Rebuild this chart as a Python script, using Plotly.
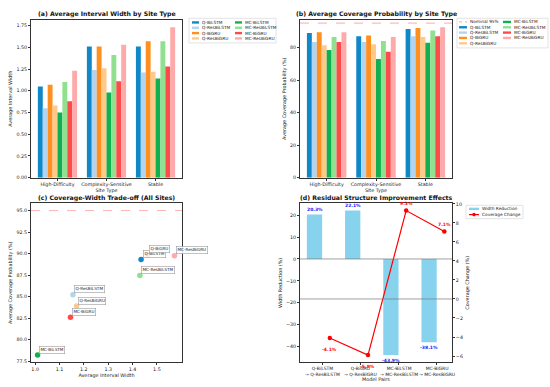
import plotly.graph_objects as go

W, H = 550, 387
FONT = "DejaVu Sans"

# ---------------- data ----------------
site_types = ["High-Difficulty", "Complexity-Sensitive", "Stable"]
models = ["Q-BiLSTM", "Q-ResBiLSTM", "Q-BiGRU", "Q-ResBiGRU",
          "MC-BiLSTM", "MC-ResBiLSTM", "MC-BiGRU", "MC-ResBiGRU"]
model_colors = ["#1088C8", "#B3D4F0", "#FF9020", "#FFC98A",
                "#10B050", "#90E090", "#FF4A4A", "#FFAAAA"]

# (a) average interval width, one list per site type (model order above)
width_high_difficulty = [1.05, 0.80, 1.07, 0.83, 0.75, 1.10, 0.88, 1.23]
width_complexity_sensitive = [1.51, 1.24, 1.51, 1.26, 0.98, 1.41, 1.11, 1.53]
width_stable = [1.51, 1.21, 1.57, 1.22, 1.14, 1.57, 1.28, 1.73]

# (b) average coverage probability (%)
cov_high_difficulty = [89.0, 83.5, 89.5, 81.5, 78.5, 86.5, 83.5, 89.5]
cov_complexity_sensitive = [87.0, 83.5, 87.5, 82.0, 73.0, 84.0, 77.5, 86.5]
cov_stable = [91.5, 87.0, 92.0, 86.5, 83.0, 90.5, 87.0, 92.5]
nominal_coverage = 95

# (c) trade-off, all sites
scatter_width = [1.435, 1.155, 1.462, 1.170, 1.010, 1.430, 1.145, 1.572]
scatter_coverage = [89.3, 85.2, 89.85, 83.9, 78.2, 87.45, 82.6, 89.75]

# (d) residual structure improvement
pair_labels = ["Q-BiLSTM<br>→ Q-ResBiLSTM", "Q-BiGRU<br>→ Q-ResBiGRU",
               "MC-BiLSTM<br>→ MC-ResBiLSTM", "MC-BiGRU<br>→ MC-ResBiGRU"]
width_reduction = [20.3, 22.1, -43.9, -38.1]
coverage_change = [-4.1, -5.9, 9.3, 7.1]


def px(x):
    return x / W


def py(y):
    return 1 - y / H


fig = go.Figure()

# ---------- (a) ----------
for i, m in enumerate(models):
    fig.add_trace(go.Bar(
        x=site_types,
        y=[width_high_difficulty[i], width_complexity_sensitive[i], width_stable[i]],
        name=m, marker=dict(color=model_colors[i], line=dict(width=0)),
        xaxis="x", yaxis="y", showlegend=False))

# ---------- (b) ----------
for i, m in enumerate(models):
    fig.add_trace(go.Bar(
        x=site_types,
        y=[cov_high_difficulty[i], cov_complexity_sensitive[i], cov_stable[i]],
        name=m, marker=dict(color=model_colors[i], line=dict(width=0)),
        xaxis="x2", yaxis="y2", showlegend=False))

# ---------- (c) ----------
fig.add_trace(go.Scatter(
    x=scatter_width, y=scatter_coverage, mode="markers", text=models,
    marker=dict(color=model_colors, size=5.5, line=dict(width=0)),
    xaxis="x3", yaxis="y3", showlegend=False))
for i, m in enumerate(models):
    fig.add_annotation(x=scatter_width[i], y=scatter_coverage[i], xref="x3", yref="y3",
                       text=m, showarrow=False, xanchor="left", yanchor="bottom",
                       xshift=1.5, yshift=1.5,
                       font=dict(family=FONT, size=4.2, color="#222"),
                       bgcolor="rgba(255,255,255,0.85)", bordercolor="#999",
                       borderwidth=0.6, borderpad=0.8)

# ---------- (d) ----------
idx = list(range(len(pair_labels)))
fig.add_trace(go.Bar(x=idx, y=width_reduction, width=0.4, offset=-0.4,
                     marker=dict(color="#87D3EE", line=dict(width=0)),
                     name="Width Reduction", xaxis="x4", yaxis="y4", showlegend=False))
fig.add_trace(go.Scatter(x=[i + 0.2 for i in idx], y=coverage_change, mode="lines+markers",
                         line=dict(color="red", width=1.2), marker=dict(color="red", size=4.5),
                         name="Coverage Change", xaxis="x4", yaxis="y5", showlegend=False))
for i in idx:
    v = width_reduction[i]
    fig.add_annotation(x=i - 0.2, y=v, xref="x4", yref="y4", text=f"<b>{v:.1f}%</b>",
                       showarrow=False, yanchor="bottom" if v >= 0 else "top",
                       yshift=0.5 if v >= 0 else -0.5,
                       font=dict(family=FONT, size=4.5, color="#1a1aff"))
    c = coverage_change[i]
    fig.add_annotation(x=i + 0.2, y=c, xref="x4", yref="y5", text=f"<b>{c:.1f}%</b>",
                       showarrow=False, yanchor="bottom" if c >= 0 else "top",
                       yshift=2.5 if c >= 0 else -7,
                       font=dict(family=FONT, size=4.5, color="red"))
    # category labels of the model pairs (two lines, below the axis)
    fig.add_annotation(x=i, y=py(367.3), xref="x4", yref="paper", text=pair_labels[i],
                       showarrow=False, xanchor="center", yanchor="top",
                       font=dict(family=FONT, size=4.5, color="#222"), borderpad=0)

# ---------- axes ----------
tickfont = dict(family=FONT, size=4.8, color="#222")
labfont = dict(family=FONT, size=4.9, color="#222")
common = dict(showline=True, linecolor="#333", linewidth=0.8,
              ticks="outside", ticklen=2, tickwidth=0.6, tickcolor="#333",
              showgrid=False, zeroline=False, tickfont=tickfont, tickangle=0)

XA = [px(31), px(182)]
XB = [px(300), px(452)]
YT = [py(178), py(18)]
YB = [py(365), py(204)]

fig.update_layout(
    width=W, height=H, margin=dict(l=0, r=0, t=0, b=0),
    paper_bgcolor="white", plot_bgcolor="white",
    barmode="group", bargap=0.2, bargroupgap=0,
    font=dict(family=FONT),
    xaxis=dict(domain=XA, anchor="y", range=[-0.54, 2.54], mirror=True,
               title=dict(text="Site Type", font=labfont, standoff=1), **common),
    yaxis=dict(domain=YT, anchor="x", range=[0, 1.8165], mirror=True,
               tickvals=[0, 0.25, 0.5, 0.75, 1.0, 1.25, 1.5, 1.75], tickformat=".2f",
               title=dict(text="Average Interval Width", font=labfont, standoff=3), **common),
    xaxis2=dict(domain=XB, anchor="y2", range=[-0.54, 2.54], mirror=True,
                title=dict(text="Site Type", font=labfont, standoff=1), **common),
    yaxis2=dict(domain=YT, anchor="x2", range=[0, 97.1], mirror=True,
                tickvals=[0, 20, 40, 60, 80],
                title=dict(text="Average Coverage Probability (%)", font=labfont, standoff=3), **common),
    xaxis3=dict(domain=XA, anchor="y3", range=[0.983, 1.603], mirror=True,
                tickvals=[1.0, 1.1, 1.2, 1.3, 1.4, 1.5], tickformat=".1f",
                title=dict(text="Average Interval Width", font=labfont, standoff=2), **common),
    yaxis3=dict(domain=YB, anchor="x3", range=[77.36, 95.84], mirror=True,
                tickvals=[77.5, 80, 82.5, 85, 87.5, 90, 92.5, 95], tickformat=".1f",
                title=dict(text="Average Coverage Probability (%)", font=labfont, standoff=3), **common),
    xaxis4=dict(domain=XB, anchor="y4", range=[-0.58, 3.40], mirror=True,
                tickvals=idx, showticklabels=False, **common),
    yaxis4=dict(domain=YB, anchor="x4", range=[-47.2, 25.4], mirror=False,
                tickvals=[-40, -30, -20, -10, 0, 10, 20],
                title=dict(text="Width Reduction (%)", font=labfont, standoff=3), **common),
    yaxis5=dict(overlaying="y4", side="right", anchor="x4", range=[-6.66, 10.06], mirror=False,
                tickvals=[-6, -4, -2, 0, 2, 4, 6, 8, 10],
                title=dict(text="Coverage Change (%)", font=labfont, standoff=3), **common),
)

# x-axis title of (d)
fig.add_annotation(x=px(376), y=py(382), xref="paper", yref="paper", text="Model Pairs",
                   showarrow=False, xanchor="center", yanchor="middle", font=labfont)

# reference lines
fig.add_shape(type="line", xref="x2 domain", yref="y2", x0=0, x1=1,
              y0=nominal_coverage, y1=nominal_coverage,
              line=dict(color="rgba(255,60,60,0.35)", width=1.3, dash="dash"))
fig.add_shape(type="line", xref="x3 domain", yref="y3", x0=0, x1=1,
              y0=nominal_coverage, y1=nominal_coverage,
              line=dict(color="rgba(255,0,0,0.6)", width=0.5, dash="dash"))
fig.add_shape(type="line", xref="x4 domain", yref="y4", x0=0, x1=1, y0=0, y1=0,
              line=dict(color="#777", width=0.7))
fig.add_shape(type="line", xref="x4 domain", yref="y5", x0=0, x1=1, y0=0, y1=0,
              line=dict(color="#777", width=0.7))

# panel titles
titles = [("(a) Average Interval Width by Site Type", 106.5, 12),
          ("(b) Average Coverage Probability by Site Type", 376, 12),
          ("(c) Coverage-Width Trade-off (All Sites)", 106.5, 199),
          ("(d) Residual Structure Improvement Effects", 376, 199)]
for t, x, y in titles:
    fig.add_annotation(x=px(x), y=py(y), xref="paper", yref="paper", text=f"<b>{t}</b>",
                       showarrow=False, xanchor="center", yanchor="middle",
                       font=dict(family=FONT, size=6.2, color="#111"))


# ---------- compact legends (matplotlib-style, two columns) ----------
def legend_box(x0, y0, x1, y1):
    fig.add_shape(type="rect", xref="paper", yref="paper",
                  x0=px(x0), x1=px(x1), y0=py(y0), y1=py(y1),
                  line=dict(color="#d0d0d0", width=0.6),
                  fillcolor="rgba(255,255,255,0.8)", layer="above")


def legend_entry(label, color, kind, sx0, sx1, y):
    if kind == "bar":
        fig.add_shape(type="rect", xref="paper", yref="paper",
                      x0=px(sx0), x1=px(sx1), y0=py(y - 1.2), y1=py(y + 1.2),
                      line=dict(width=0), fillcolor=color, layer="above")
    elif kind == "dash":
        fig.add_shape(type="line", xref="paper", yref="paper",
                      x0=px(sx0), x1=px(sx1), y0=py(y), y1=py(y),
                      line=dict(color=color, width=1.2, dash="dot"), layer="above")
    else:
        fig.add_shape(type="line", xref="paper", yref="paper",
                      x0=px(sx0), x1=px(sx1), y0=py(y), y1=py(y),
                      line=dict(color=color, width=1.2), layer="above")
        cx = (sx0 + sx1) / 2
        fig.add_shape(type="circle", xref="paper", yref="paper",
                      x0=px(cx - 1.8), x1=px(cx + 1.8), y0=py(y - 1.8), y1=py(y + 1.8),
                      line=dict(width=0), fillcolor=color, layer="above")
    fig.add_annotation(x=px(sx1 + 2), y=py(y), xref="paper", yref="paper", text=label,
                       showarrow=False, xanchor="left", yanchor="middle", borderpad=0,
                       font=dict(family=FONT, size=4.3, color="#222"))


# (a) legend
legend_box(189, 16.5, 276, 41.5)
for k in range(4):
    legend_entry(models[k], model_colors[k], "bar", 192, 199, 20.7 + 5.4 * k)
    legend_entry(models[k + 4], model_colors[k + 4], "bar", 235, 242, 20.7 + 5.4 * k)

# (b) legend
legend_box(457, 16.5, 548, 46.5)
legend_entry("Nominal 95%", "rgba(255,60,60,0.4)", "dash", 459, 467, 20.2)
for k in range(4):
    legend_entry(models[k], model_colors[k], "bar", 459, 467, 25.6 + 5.4 * k)
    legend_entry(models[k + 4], model_colors[k + 4], "bar", 503, 511, 20.2 + 5.4 * k)

# (d) legend
legend_box(466, 206, 523, 219.5)
legend_entry("Width Reduction", "#87D3EE", "bar", 469, 479, 209.6)
legend_entry("Coverage Change", "red", "line", 469, 479, 215.4)

# remove the browser's default page margin so the figure fills the window exactly
fig.write_html("out.html",
               config={"displayModeBar": False},
               post_script="document.body.style.margin='0';document.body.style.padding='0';")
